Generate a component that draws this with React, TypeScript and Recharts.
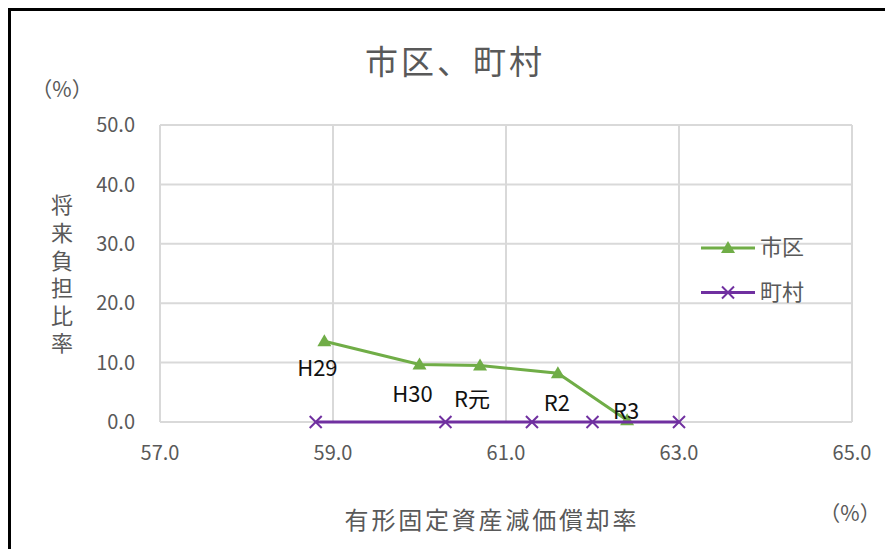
import React from "react";
import {
  ScatterChart,
  Scatter,
  XAxis,
  YAxis,
  CartesianGrid,
  LabelList,
  Customized,
} from "recharts";

// 年度ラベル
const years = ["H29", "H30", "R元", "R2", "R3"];

// 市区: 有形固定資産減価償却率 / 将来負担比率
const shikuRate = [58.9, 60.0, 60.7, 61.6, 62.4];
const shikuBurden = [13.6, 9.7, 9.5, 8.2, 0.3];

// 町村
const chosonRate = [58.8, 60.3, 61.3, 62.0, 63.0];
const chosonBurden = [0, 0, 0, 0, 0];

const xTicks = [57, 59, 61, 63, 65];
const yTicks = [0, 10, 20, 30, 40, 50];

const GREEN = "#70AD47";
const PURPLE = "#7030A0";
const GRID = "#D9D9D9";
const TEXT = "#595959";
const FONT = "'Noto Sans CJK JP', 'Noto Sans', sans-serif";

const shikuData = years.map((label, i) => ({
  label,
  x: shikuRate[i],
  y: shikuBurden[i],
}));
const chosonData = years.map((label, i) => ({
  label,
  x: chosonRate[i],
  y: chosonBurden[i],
}));

// データラベルは手動で位置調整されている
const labelShift: Record<string, [number, number]> = {
  H29: [-7, 25],
  H30: [-7, 28],
  R元: [-8, 31],
  R2: [-1, 28],
  R3: [-1, -11],
};

const Triangle = (props: any) => {
  const { cx, cy } = props;
  if (cx == null || cy == null) return null;
  return (
    <polygon
      points={`${cx},${cy - 7} ${cx + 7},${cy + 5} ${cx - 7},${cy + 5}`}
      fill={GREEN}
    />
  );
};

const Cross = (props: any) => {
  const { cx, cy } = props;
  if (cx == null || cy == null) return null;
  return (
    <g stroke={PURPLE} strokeWidth={2}>
      <line x1={cx - 6} y1={cy - 6} x2={cx + 6} y2={cy + 6} />
      <line x1={cx - 6} y1={cy + 6} x2={cx + 6} y2={cy - 6} />
    </g>
  );
};

const YearLabel = (props: any) => {
  const { x, y, width, height, value } = props;
  const cx = x + (width || 0) / 2;
  const cy = y + (height || 0) / 2;
  const [dx, dy] = labelShift[value] || [0, 20];
  return (
    <text
      x={cx + dx}
      y={cy + dy}
      textAnchor="middle"
      dominantBaseline="central"
      fontSize={22}
      fontFamily={FONT}
      fill="#111"
    >
      {value}
    </text>
  );
};

// タイトル・軸タイトル・凡例
const Overlay = () => (
  <g fontFamily={FONT} fill={TEXT}>
    <text x={444} y={49} textAnchor="middle" dominantBaseline="central" fontSize={33} letterSpacing={3}>
      市区、町村
    </text>
    <text x={51} y={77} textAnchor="middle" dominantBaseline="central" fontSize={21}>
      （%）
    </text>
    <text
      x={51}
      y={183}
      fontSize={22}
      letterSpacing={5.6}
      style={{ writingMode: "vertical-rl" }}
    >
      将来負担比率
    </text>
    <text x={481} y={507} textAnchor="middle" dominantBaseline="central" fontSize={24} letterSpacing={2.8}>
      有形固定資産減価償却率
    </text>
    <text x={839} y={501} textAnchor="middle" dominantBaseline="central" fontSize={21}>
      （%）
    </text>

    <line x1={690} y1={237} x2={744} y2={237} stroke={GREEN} strokeWidth={3} />
    <Triangle cx={717} cy={237} />
    <text x={749} y={234} dominantBaseline="central" fontSize={22}>
      市区
    </text>
    <line x1={690} y1={281.5} x2={744} y2={281.5} stroke={PURPLE} strokeWidth={3} />
    <Cross cx={717} cy={281.5} />
    <text x={749} y={279} dominantBaseline="central" fontSize={22}>
      町村
    </text>
  </g>
);

export default function App() {
  return (
    <div
      style={{
        position: "relative",
        width: 882,
        height: 538,
        borderTop: "3px solid #000",
        borderLeft: "3px solid #000",
        background: "#fff",
        overflow: "hidden",
      }}
    >
      <ScatterChart
        width={882}
        height={538}
        margin={{ top: 114, right: 41, bottom: 87, left: 89 }}
      >
        <CartesianGrid stroke={GRID} strokeWidth={2} />
        <XAxis
          type="number"
          dataKey="x"
          domain={[57, 65]}
          ticks={xTicks}
          tickFormatter={(v: number) => v.toFixed(1)}
          axisLine={false}
          tickLine={false}
          tickSize={0}
          tickMargin={24}
          height={40}
          tick={{ fill: TEXT, fontSize: 20, fontFamily: FONT }}
        />
        <YAxis
          type="number"
          dataKey="y"
          domain={[0, 50]}
          ticks={yTicks}
          tickFormatter={(v: number) => v.toFixed(1)}
          axisLine={false}
          tickLine={false}
          tickSize={0}
          tickMargin={25}
          width={60}
          tick={{ fill: TEXT, fontSize: 20, fontFamily: FONT }}
        />
        <Scatter
          name="市区"
          data={shikuData}
          fill={GREEN}
          line={{ stroke: GREEN, strokeWidth: 3 }}
          shape={Triangle}
          isAnimationActive={false}
        >
          <LabelList dataKey="label" content={YearLabel} />
        </Scatter>
        <Scatter
          name="町村"
          data={chosonData}
          fill={PURPLE}
          line={{ stroke: PURPLE, strokeWidth: 3 }}
          shape={Cross}
          isAnimationActive={false}
        />
        <Customized component={Overlay} />
      </ScatterChart>
    </div>
  );
}
